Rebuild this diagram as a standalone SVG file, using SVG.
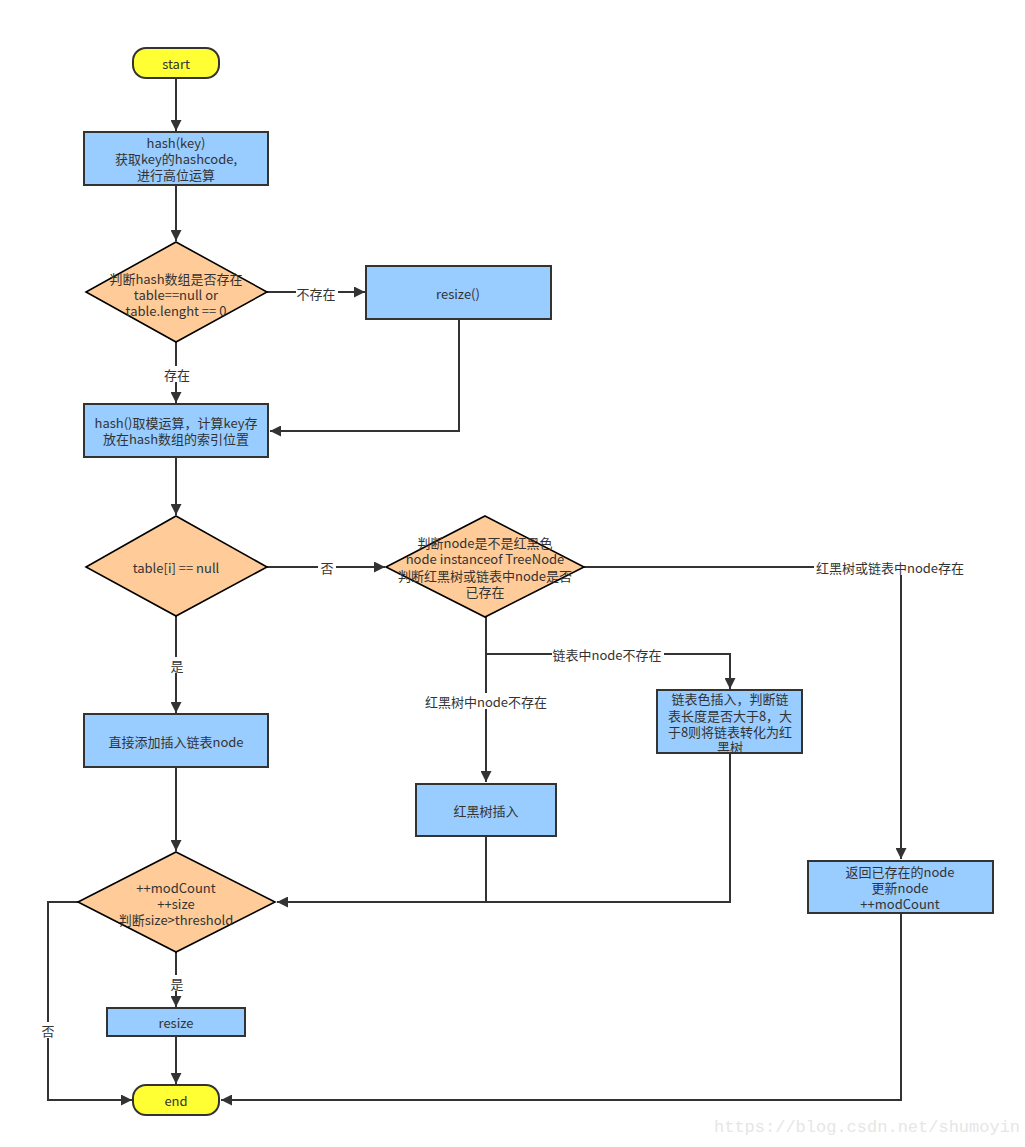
<svg xmlns="http://www.w3.org/2000/svg" width="1025" height="1147" viewBox="0 0 1025 1147">
<style>
text{font-family:"Noto Sans CJK SC","Open Sans",sans-serif;font-size:13px;fill:#333;text-anchor:middle;dominant-baseline:central}
.term{fill:#ffff33;stroke:#333;stroke-width:2}
.box{fill:#99ccff;stroke:#333;stroke-width:2}
.dia{fill:#ffcc99;stroke:#000;stroke-width:1.6}
.ln{fill:none;stroke:#333;stroke-width:2}
.lbl{fill:#fff}
.wm{font-family:"Liberation Mono","DejaVu Sans Mono",monospace;font-size:17px;fill:#e6e6e6;text-anchor:start}
</style>
<defs>
<marker id="ah" viewBox="0 0 10 10" refX="10" refY="5" markerWidth="5.5" markerHeight="5.5" orient="auto" markerUnits="strokeWidth">
<path d="M0,0 L10,5 L0,10 z" fill="#333"/>
</marker>
</defs>
<rect width="1025" height="1147" fill="#fff"/>
<g id="connectors">
<path class="ln" d="M176,78 V131" marker-end="url(#ah)"/>
<path class="ln" d="M176,185 V241" marker-end="url(#ah)"/>
<path class="ln" d="M267,292 H365" marker-end="url(#ah)"/>
<path class="ln" d="M176,342 V403" marker-end="url(#ah)"/>
<path class="ln" d="M459,319 V431 H270" marker-end="url(#ah)"/>
<path class="ln" d="M176,457 V515" marker-end="url(#ah)"/>
<path class="ln" d="M267,567 H385" marker-end="url(#ah)"/>
<path class="ln" d="M176,616 V713" marker-end="url(#ah)"/>
<path class="ln" d="M584,567 H901 V859" marker-end="url(#ah)"/>
<path class="ln" d="M486,617 V782" marker-end="url(#ah)"/>
<path class="ln" d="M486,654 H730 V689" marker-end="url(#ah)"/>
<path class="ln" d="M176,767 V851" marker-end="url(#ah)"/>
<path class="ln" d="M486,836 V902 H277" marker-end="url(#ah)"/>
<path class="ln" d="M730,753 V902 H486"/>
<path class="ln" d="M176,952 V1007" marker-end="url(#ah)"/>
<path class="ln" d="M176,1036 V1084" marker-end="url(#ah)"/>
<path class="ln" d="M78,902 H48 V1100 H132" marker-end="url(#ah)"/>
<path class="ln" d="M901,913 V1100 H221" marker-end="url(#ah)"/>
<rect class="lbl" x="296" y="285" width="42" height="16"/>
<text x="316" y="293">不存在</text>
<rect class="lbl" x="162" y="366" width="30" height="16"/>
<text x="177" y="374">存在</text>
<rect class="lbl" x="318" y="559" width="18" height="16"/>
<text x="327" y="567">否</text>
<rect class="lbl" x="168" y="657" width="18" height="16"/>
<text x="177" y="665">是</text>
<rect class="lbl" x="814" y="559" width="152" height="16"/>
<text x="890" y="567">红黑树或链表中node存在</text>
<rect class="lbl" x="552" y="646" width="112" height="16"/>
<text x="607" y="654">链表中node不存在</text>
<rect class="lbl" x="424" y="693" width="126" height="16"/>
<text x="486" y="701">红黑树中node不存在</text>
<rect class="lbl" x="168" y="975" width="18" height="16"/>
<text x="177" y="983">是</text>
<rect class="lbl" x="39" y="1022" width="18" height="16"/>
<text x="48" y="1030">否</text>
</g>
<g id="start">
<rect class="term" x="133" y="48" width="86" height="30" rx="13"/>
<text x="176" y="63">start</text>
</g>
<g id="hashkey">
<rect class="box" x="84" y="132" width="184" height="53"/>
<text x="176" y="142">hash(key)</text>
<text x="176" y="158">获取key的hashcode,</text>
<text x="176" y="174">进行高位运算</text>
</g>
<g id="check-table">
<polygon class="dia" points="176,242 267,292 176,342 86,292"/>
<text x="176" y="278">判断hash数组是否存在</text>
<text x="176" y="294">table==null or</text>
<text x="176" y="310">table.lenght == 0</text>
</g>
<g id="resize1">
<rect class="box" x="366" y="266" width="185" height="53"/>
<text x="458" y="293">resize()</text>
</g>
<g id="index">
<rect class="box" x="84" y="404" width="184" height="53"/>
<text x="176" y="422">hash()取模运算，计算key存</text>
<text x="176" y="438">放在hash数组的索引位置</text>
</g>
<g id="check-null">
<polygon class="dia" points="176,516 267,567 176,616 86,567"/>
<text x="176" y="567">table[i] == null</text>
</g>
<g id="check-node">
<polygon class="dia" points="485,516 584,567 485,617 386,567"/>
<text x="485" y="542">判断node是不是红黑色</text>
<text x="485" y="558">node instanceof TreeNode</text>
<text x="485" y="575">判断红黑树或链表中node是否</text>
<text x="485" y="591">已存在</text>
</g>
<g id="direct-insert">
<rect class="box" x="84" y="714" width="184" height="53"/>
<text x="176" y="741">直接添加插入链表node</text>
</g>
<g id="list-insert">
<rect class="box" x="657" y="690" width="145" height="63"/>
<text x="730" y="698">链表色插入，判断链</text>
<text x="730" y="715">表长度是否大于8，大</text>
<text x="730" y="731">于8则将链表转化为红</text>
<text x="730" y="746">黑树</text>
</g>
<g id="tree-insert">
<rect class="box" x="416" y="784" width="140" height="52"/>
<text x="486" y="810">红黑树插入</text>
</g>
<g id="existing">
<rect class="box" x="808" y="861" width="185" height="52"/>
<text x="900" y="871">返回已存在的node</text>
<text x="900" y="887">更新node</text>
<text x="900" y="903">++modCount</text>
</g>
<g id="check-size">
<polygon class="dia" points="176,852 275,902 176,952 78,902"/>
<text x="176" y="887">++modCount</text>
<text x="176" y="903">++size</text>
<text x="176" y="919">判断size&gt;threshold</text>
</g>
<g id="resize2">
<rect class="box" x="107" y="1008" width="138" height="28"/>
<text x="176" y="1022">resize</text>
</g>
<g id="end">
<rect class="term" x="133" y="1085" width="86" height="30" rx="13"/>
<text x="176" y="1100">end</text>
</g>
<text class="wm" x="714" y="1127">https://blog.csdn.net/shumoyin</text>
</svg>
